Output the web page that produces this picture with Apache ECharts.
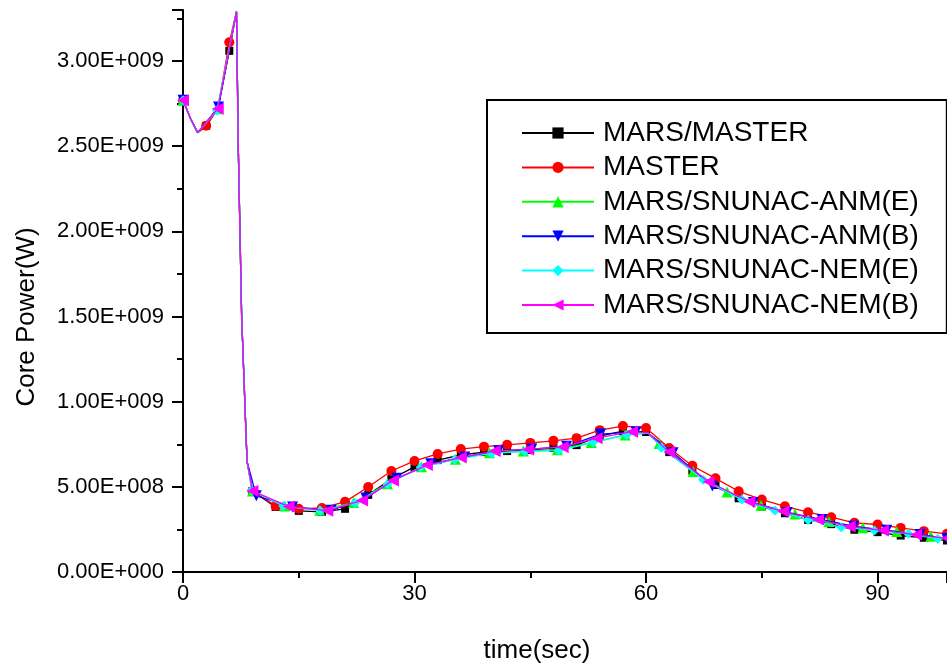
<!DOCTYPE html>
<html>
<head>
<meta charset="utf-8">
<script src="https://cdn.jsdelivr.net/npm/echarts@6/dist/echarts.min.js"></script>
<style>
  html, body { margin: 0; padding: 0; background: #fff; }
  #chart { width: 947px; height: 669px; }
</style>
</head>
<body>
<div id="chart"></div>
<script>
  // series names (legend order)
  var names = ['MARS/MASTER', 'MASTER', 'MARS/SNUNAC-ANM(E)', 'MARS/SNUNAC-ANM(B)', 'MARS/SNUNAC-NEM(E)', 'MARS/SNUNAC-NEM(B)'];

  // x ticks / y ticks
  var xTicks = [0, 30, 60, 90];
  var yTicks = [0, 5e8, 1e9, 1.5e9, 2e9, 2.5e9, 3e9];

  // points of the power spike (drawn without a marker)
  var peakT = [1.0, 1.9, 4.5, 6.93, 7.17, 7.6, 8.3];
  var peakP = [2.66e9, 2.58e9, 2.72e9, 3.29e9, 2.48e9, 1.50e9, 6.5e8];
  // shoulder near 60 s of the SNUNAC curves (no marker)
  var snuBendT = [60.3];
  var snuBendP = [8.15e8];

  // MARS/MASTER and MASTER, one marker every 3 s
  var tMaster = [0, 3, 6, 9, 12, 15, 18, 21, 24, 27, 30, 33, 36, 39, 42, 45, 48, 51, 54, 57, 60, 63, 66, 69, 72, 75, 78, 81, 84, 87, 90, 93, 96, 99];
  var pMarsMaster = [2.77e9, 2.62e9, 3.06e9, 4.75e8, 3.82e8, 3.59e8, 3.53e8, 3.71e8, 4.53e8, 5.46e8, 6.17e8, 6.57e8, 6.87e8, 7.04e8, 7.1e8, 7.16e8, 7.28e8, 7.45e8, 7.98e8, 8.27e8, 8.22e8, 7.04e8, 5.95e8, 5.11e8, 4.33e8, 3.84e8, 3.45e8, 3.06e8, 2.81e8, 2.48e8, 2.34e8, 2.14e8, 2.01e8, 1.85e8];
  var pMaster = [2.77e9, 2.62e9, 3.11e9, 4.75e8, 3.88e8, 3.71e8, 3.76e8, 4.12e8, 4.99e8, 5.93e8, 6.52e8, 6.93e8, 7.22e8, 7.36e8, 7.47e8, 7.58e8, 7.7e8, 7.86e8, 8.33e8, 8.57e8, 8.45e8, 7.28e8, 6.24e8, 5.5e8, 4.74e8, 4.25e8, 3.86e8, 3.51e8, 3.22e8, 2.89e8, 2.79e8, 2.59e8, 2.4e8, 2.24e8];

  // MARS/SNUNAC-ANM(E)
  var tAnmE = [0, 4.5, 9, 13.2, 17.7, 22.1, 26.5, 30.9, 35.3, 39.7, 44.1, 48.5, 52.9, 57.3, 61.7, 66.1, 70.5, 74.9, 79.3, 83.7, 88.1, 92.5, 96.9];
  var pAnmE = [2.77e9, 2.72e9, 4.76e8, 3.87e8, 3.62e8, 4.08e8, 5.18e8, 6.18e8, 6.62e8, 7.0e8, 7.1e8, 7.18e8, 7.6e8, 8.05e8, 7.55e8, 5.9e8, 4.7e8, 3.92e8, 3.4e8, 2.96e8, 2.6e8, 2.38e8, 2.1e8];
  // MARS/SNUNAC-ANM(B)
  var tAnmB = [0, 4.6, 9.5, 14.2, 19.2, 23.7, 27.7, 32.1, 36.5, 40.9, 45.2, 49.7, 54.1, 58.7, 63.5, 68.6, 73.9, 78.3, 82.8, 86.9, 91.2, 95.5, 99];
  var pAnmB = [2.77e9, 2.73e9, 4.47e8, 3.82e8, 3.62e8, 4.35e8, 5.5e8, 6.35e8, 6.76e8, 7.12e8, 7.22e8, 7.38e8, 8.1e8, 8.23e8, 7.0e8, 5.05e8, 4.08e8, 3.5e8, 3.08e8, 2.68e8, 2.45e8, 2.2e8, 1.97e8];
  // MARS/SNUNAC-NEM(E)
  var tNemE = [0, 4.4, 8.9, 13.0, 17.8, 22.3, 26.5, 30.8, 35.2, 40, 44.3, 48.7, 53.1, 57.5, 62, 67.4, 72.4, 76.7, 81, 85.3, 89.6, 94, 97.8];
  var pNemE = [2.77e9, 2.71e9, 4.8e8, 3.88e8, 3.6e8, 4.05e8, 5.15e8, 6.15e8, 6.6e8, 6.96e8, 7.07e8, 7.13e8, 7.6e8, 8.05e8, 7.3e8, 5.42e8, 4.25e8, 3.61e8, 3.06e8, 2.63e8, 2.44e8, 2.24e8, 1.95e8];
  // MARS/SNUNAC-NEM(B)
  var tNemB = [0, 4.5, 9, 13.7, 18.7, 23.2, 27.2, 31.6, 36, 40.4, 44.7, 49.2, 53.6, 58.2, 63, 68.1, 73.4, 77.8, 82.3, 86.4, 90.7, 95, 99];
  var pNemB = [2.77e9, 2.72e9, 4.76e8, 3.84e8, 3.6e8, 4.2e8, 5.38e8, 6.28e8, 6.72e8, 7.1e8, 7.2e8, 7.34e8, 7.86e8, 8.24e8, 7.04e8, 5.3e8, 4.13e8, 3.55e8, 3.08e8, 2.67e8, 2.44e8, 2.18e8, 1.98e8];

  var FONT = 'Liberation Sans, Arial, sans-serif';

  // marker points + extra bend points without a marker, sorted on time
  function buildData(t, p, extras) {
    var pts = [];
    for (var i = 0; i < t.length; i++) pts.push({ value: [t[i], p[i]] });
    extras.forEach(function (ex) {
      for (var j = 0; j < ex[0].length; j++) {
        var near = t.some(function (tt) { return Math.abs(tt - ex[0][j]) < 0.4; });
        if (!near) pts.push({ value: [ex[0][j], ex[1][j]], symbol: 'none' });
      }
    });
    pts.sort(function (a, b) { return a.value[0] - b.value[0]; });
    return pts;
  }

  function sci(v) {
    if (v === 0) return '0.00E+000';
    var e = Math.floor(Math.log10(v) + 1e-9);
    var m = v / Math.pow(10, e);
    return m.toFixed(2) + 'E+' + String(e).padStart(3, '0');
  }

  function mkSeries(i, t, p, extras, color, symbol, size, rotate) {
    return {
      name: names[i],
      type: 'line',
      data: buildData(t, p, extras),
      symbol: symbol,
      symbolSize: size,
      symbolRotate: rotate || 0,
      showAllSymbol: true,
      clip: true,
      lineStyle: { color: color, width: 1.3 },
      itemStyle: { color: color },
      emphasis: { disabled: true },
      z: 2 + i
    };
  }

  var chart = echarts.init(document.getElementById('chart'));
  chart.setOption({
    animation: false,
    backgroundColor: '#fff',
    grid: { left: 183, right: 0, top: 10, bottom: 96, containLabel: false },
    legend: {
      orient: 'vertical',
      left: 487,
      top: 100,
      padding: [19, 28, 14, 34],
      itemWidth: 72,
      itemHeight: 14,
      itemGap: 6.4,
      borderColor: '#000',
      borderWidth: 2,
      data: names,
      textStyle: { fontSize: 28, lineHeight: 28, color: '#000', fontFamily: FONT, padding: [0, 0, 0, 4] }
    },
    xAxis: {
      type: 'value',
      min: 0,
      max: 99,
      interval: 30,
      name: 'time(sec)',
      nameLocation: 'middle',
      nameGap: 66,
      nameTextStyle: { fontSize: 26, color: '#000', fontFamily: FONT, padding: [0, 56, 0, 0] },
      axisLine: { onZero: false, lineStyle: { color: '#000', width: 2 } },
      axisTick: { inside: false, length: 11, lineStyle: { color: '#000', width: 2 } },
      minorTick: { show: true, splitNumber: 2, length: 6, lineStyle: { color: '#000', width: 2 } },
      axisLabel: {
        fontSize: 22, color: '#000', fontFamily: FONT, margin: 11,
        showMaxLabel: false,
        formatter: function (v) { return xTicks.indexOf(v) >= 0 ? String(v) : ''; }
      },
      splitLine: { show: false }
    },
    yAxis: {
      type: 'value',
      min: 0,
      max: 3.3e9,
      interval: 5e8,
      name: 'Core Power(W)',
      nameLocation: 'middle',
      nameGap: 143,
      nameTextStyle: { fontSize: 26, color: '#000', fontFamily: FONT, padding: [0, 52, 0, 0] },
      axisLine: { show: true, onZero: false, lineStyle: { color: '#000', width: 2 } },
      axisTick: { show: true, inside: false, length: 11, lineStyle: { color: '#000', width: 2 } },
      minorTick: { show: true, splitNumber: 2, length: 6, lineStyle: { color: '#000', width: 2 } },
      axisLabel: {
        fontSize: 22, color: '#000', fontFamily: FONT, margin: 19,
        showMaxLabel: false,
        formatter: function (v) { return yTicks.indexOf(v) >= 0 ? sci(v) : ''; }
      },
      splitLine: { show: false }
    },
    series: [
      mkSeries(0, tMaster, pMarsMaster, [[peakT, peakP]], '#000000', 'rect', 8),
      mkSeries(1, tMaster, pMaster, [[peakT, peakP]], '#ff0000', 'circle', 10),
      mkSeries(2, tAnmE, pAnmE, [[peakT, peakP], [snuBendT, snuBendP]], '#00ff00', 'triangle', 11),
      mkSeries(3, tAnmB, pAnmB, [[peakT, peakP], [snuBendT, snuBendP]], '#0000ff', 'triangle', 11, 180),
      mkSeries(4, tNemE, pNemE, [[peakT, peakP], [snuBendT, snuBendP]], '#00ffff', 'diamond', 10),
      mkSeries(5, tNemB, pNemB, [[peakT, peakP], [snuBendT, snuBendP]], '#ff00ff', 'triangle', 12, 90)
    ]
  });
</script>
</body>
</html>
